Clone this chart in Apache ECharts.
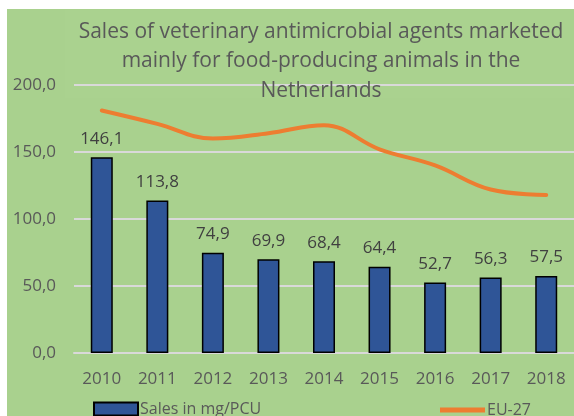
<!DOCTYPE html>
<html>
<head>
<meta charset="utf-8">
<script src="https://cdn.jsdelivr.net/npm/echarts@6/dist/echarts.min.js"></script>
<style>html,body{margin:0;padding:0;background:#fff}#c{width:574px;height:416px}</style>
</head>
<body>
<div id="c"></div>
<script>
var years = ['2010','2011','2012','2013','2014','2015','2016','2017','2018'];
var sales = [146.1, 113.8, 74.9, 69.9, 68.4, 64.4, 52.7, 56.3, 57.5];
var eu27 = [181, 171, 160, 164, 170, 152, 140, 122, 118];
var yTicks = [0, 50, 100, 150, 200];

var FONT = 'Open Sans';
function fmt(v){ return Number(v).toFixed(1).replace('.', ','); }

var chart = echarts.init(document.getElementById('c'), null, {renderer:'canvas'});
chart.setOption({
  backgroundColor: '#ffffff',
  animation: false,
  graphic: [
    {type:'rect', z:-10, shape:{x:7, y:9, width:570, height:410}, style:{fill:'#a9d18e'}},
    {type:'rect', z:-9, shape:{x:65, y:10, width:505, height:88}, style:{fill:'#aad28f'}}
  ],
  title: {
    text: 'Sales of veterinary antimicrobial agents marketed\nmainly for food-producing animals in the\nNetherlands',
    left: 316, top: 12, textAlign: 'center',
    textStyle: {fontFamily: FONT, fontSize: 21, fontWeight: 'normal', color: '#595959', lineHeight: 29.5}
  },
  legend: [
    {data:[{name:'Sales in mg/PCU', icon:'rect'}], left: 93, top: 401, itemWidth: 44, itemHeight: 13, itemGap: 4, padding: 0,
     textStyle:{fontFamily: FONT, fontSize: 16, color:'#595959', padding:[0,0,0,-3]}},
    {data:[{name:'EU-27', icon:'rect'}], left: 440, top: 402, itemWidth: 45, itemHeight: 5, padding: 0,
     textStyle:{fontFamily: FONT, fontSize: 16, color:'#595959', padding:[0,0,0,-3]}}
  ],
  grid: {left: 74, top: 85, width: 503, height: 268, containLabel: false},
  xAxis: {
    type: 'category', data: years,
    axisLine: {show: true, lineStyle: {color: '#d9d9d9', width: 2}},
    axisTick: {show: false},
    axisLabel: {fontFamily: FONT, fontSize: 17, color: '#595959', margin: 18}
  },
  yAxis: {
    type: 'value', min: yTicks[0], max: yTicks[yTicks.length-1], interval: 50,
    axisLine: {show: false}, axisTick: {show: false},
    splitLine: {lineStyle: {color: '#d9d9d9', width: 2}},
    axisLabel: {fontFamily: FONT, fontSize: 17, color: '#595959', margin: 18, formatter: fmt}
  },
  series: [
    {
      name: 'Sales in mg/PCU', type: 'bar', data: sales, barWidth: 22,
      itemStyle: {color: '#2f5597', borderColor: '#000000', borderWidth: 1.5},
      label: {show: true, position: 'top', distance: 10, fontFamily: FONT, fontSize: 17, color: '#404040', formatter: function(p){return fmt(p.value);}}
    },
    {
      name: 'EU-27', type: 'line', data: eu27, smooth: 0.4, symbol: 'none',
      lineStyle: {color: '#ed7d31', width: 4, cap: 'round'},
      itemStyle: {color: '#ed7d31'}
    }
  ]
});
</script>
</body>
</html>
